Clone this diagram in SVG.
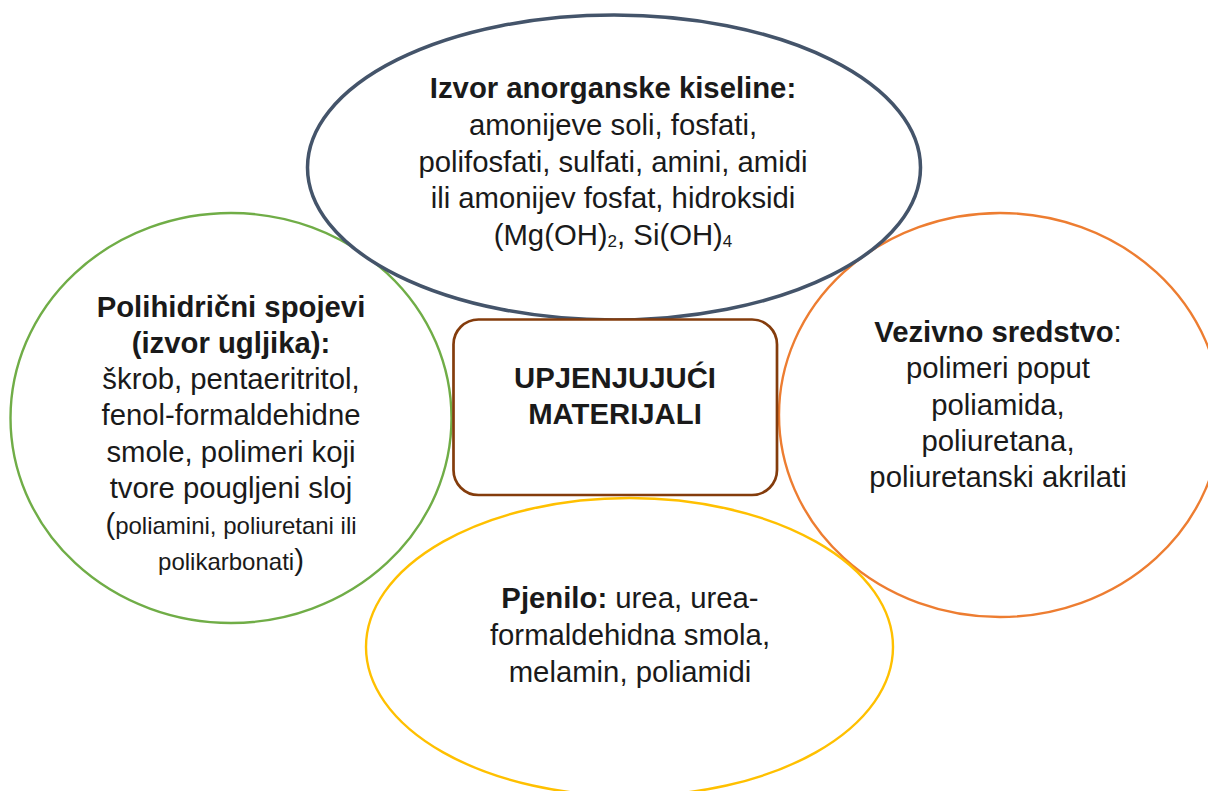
<svg xmlns="http://www.w3.org/2000/svg" width="1208" height="791" viewBox="0 0 1208 791">
  <style>
    .t { font-family: "Liberation Sans", Arial, sans-serif; font-size: 29.3px; fill: #1a1a1a; text-anchor: middle; }
    .b { font-weight: bold; }
    .s { font-size: 24px; }
    .sub { font-size: 17px; }
    .shape { fill: #ffffff; }
  </style>
  <rect x="0" y="0" width="1208" height="791" fill="#ffffff"/>
  <g id="node-polihidricni">
    <ellipse class="shape" cx="231" cy="418" rx="220.5" ry="205" stroke="#70AD47" stroke-width="2.4"/>
    <text class="t b" x="231" y="317">Polihidrični spojevi</text>
    <text class="t b" x="231" y="353">(izvor ugljika):</text>
    <text class="t" x="231" y="389">škrob, pentaeritritol,</text>
    <text class="t" x="231" y="425">fenol-formaldehidne</text>
    <text class="t" x="231" y="462">smole, polimeri koji</text>
    <text class="t" x="231" y="498">tvore pougljeni sloj</text>
    <text class="t" x="231" y="534">(<tspan class="s">poliamini, poliuretani ili</tspan></text>
    <text class="t" x="231" y="570"><tspan class="s">polikarbonati</tspan>)</text>
  </g>
  <g id="node-vezivno">
    <ellipse class="shape" cx="1000" cy="415" rx="221" ry="202" stroke="#ED7D31" stroke-width="2.4"/>
    <text class="t" x="998" y="342"><tspan class="b">Vezivno sredstvo</tspan>:</text>
    <text class="t" x="998" y="378">polimeri poput</text>
    <text class="t" x="998" y="414.5">poliamida,</text>
    <text class="t" x="998" y="451">poliuretana,</text>
    <text class="t" x="998" y="487">poliuretanski akrilati</text>
  </g>
  <g id="node-pjenilo">
    <ellipse class="shape" cx="629.5" cy="647" rx="263.5" ry="149" stroke="#FFC000" stroke-width="2.4"/>
    <text class="t" x="630" y="608"><tspan class="b">Pjenilo:</tspan> urea, urea-</text>
    <text class="t" x="630" y="645">formaldehidna smola,</text>
    <text class="t" x="630" y="682">melamin, poliamidi</text>
  </g>
  <g id="node-izvor">
    <ellipse class="shape" cx="614" cy="167.5" rx="306.5" ry="152.5" stroke="#44546A" stroke-width="3.5"/>
    <text class="t b" x="613" y="98">Izvor anorganske kiseline:</text>
    <text class="t" x="613" y="135">amonijeve soli, fosfati,</text>
    <text class="t" x="613" y="171.5">polifosfati, sulfati, amini, amidi</text>
    <text class="t" x="613" y="208">ili amonijev fosfat, hidroksidi</text>
    <text class="t" x="613" y="245">(Mg(OH)<tspan class="sub" dy="1.5">2</tspan><tspan dy="-1.5">, Si(OH)</tspan><tspan class="sub" dy="1.5">4</tspan></text>
  </g>
  <g id="node-center">
    <rect class="shape" x="453.5" y="319.5" width="323.5" height="175.5" rx="25" ry="25" stroke="#843C0C" stroke-width="2.7"/>
    <text class="t b" x="615" y="388">UPJENJUJUĆI</text>
    <text class="t b" x="615" y="424">MATERIJALI</text>
  </g>
  <g id="connectors"></g>
</svg>
